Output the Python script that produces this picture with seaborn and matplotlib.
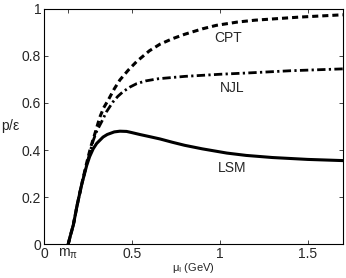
import numpy as np
import pandas as pd
import matplotlib
matplotlib.use("Agg")
import matplotlib.pyplot as plt
import seaborn as sns

# curves: mu_I (GeV) vs p/epsilon
cpt_x = [0.138, 0.15, 0.167, 0.189, 0.214, 0.243, 0.265, 0.29, 0.318, 0.34, 0.366, 0.40, 0.432, 0.48,
         0.527, 0.60, 0.66, 0.73, 0.80, 0.90, 0.98, 1.1, 1.2, 1.45, 1.7]
cpt_y = [0.0, 0.035, 0.081, 0.166, 0.252, 0.345, 0.41, 0.47, 0.54, 0.58, 0.613, 0.66, 0.698, 0.74,
         0.776, 0.822, 0.85, 0.873, 0.892, 0.915, 0.93, 0.944, 0.952, 0.965, 0.975]

njl_x = [0.138, 0.15, 0.167, 0.189, 0.214, 0.245, 0.28, 0.30, 0.328, 0.356, 0.393, 0.42, 0.45, 0.49,
         0.527, 0.58, 0.65, 0.80, 1.0, 1.17, 1.4, 1.7]
njl_y = [0.0, 0.035, 0.081, 0.166, 0.252, 0.345, 0.44, 0.48, 0.52, 0.563, 0.605, 0.628, 0.648, 0.668,
         0.682, 0.694, 0.703, 0.713, 0.722, 0.728, 0.737, 0.745]

lsm_x = [0.138, 0.15, 0.167, 0.189, 0.214, 0.243, 0.26, 0.28, 0.30, 0.336, 0.36, 0.40, 0.432, 0.47,
         0.50, 0.545, 0.60, 0.66, 0.73, 0.80, 0.90, 1.04, 1.15, 1.3, 1.5, 1.7]
lsm_y = [0.0, 0.035, 0.081, 0.166, 0.251, 0.334, 0.372, 0.405, 0.428, 0.455, 0.466, 0.477, 0.48, 0.479,
         0.474, 0.466, 0.457, 0.447, 0.433, 0.42, 0.405, 0.387, 0.377, 0.368, 0.36, 0.355]

x_ticks = [0, 0.138, 0.5, 1, 1.5]
x_tick_labels = ["0", r"m$_{\pi}$", "0.5", "1", "1.5"]
y_ticks = [0, 0.2, 0.4, 0.6, 0.8, 1]
y_tick_labels = ["0", "0.2", "0.4", "0.6", "0.8", "1"]

sns.set_style("ticks")
plt.rcParams["font.family"] = ["Liberation Sans", "DejaVu Sans"]
plt.rcParams["mathtext.fontset"] = "custom"
plt.rcParams["mathtext.rm"] = "Liberation Sans"
plt.rcParams["mathtext.it"] = "Liberation Sans"

fig = plt.figure(figsize=(3.46, 2.78), dpi=100)
ax = fig.add_axes([0.127, 0.122, 0.864, 0.846])

cpt = pd.DataFrame({"x": cpt_x, "y": cpt_y})
njl = pd.DataFrame({"x": njl_x, "y": njl_y})
lsm = pd.DataFrame({"x": lsm_x, "y": lsm_y})

sns.lineplot(data=cpt, x="x", y="y", ax=ax, color="black", lw=2.2, sort=False,
             linestyle=(0, (2.0, 1.3)))
sns.lineplot(data=njl, x="x", y="y", ax=ax, color="black", lw=2.0, sort=False,
             linestyle=(0, (3.0, 1.2, 0.8, 1.2)))
sns.lineplot(data=lsm, x="x", y="y", ax=ax, color="black", lw=2.2, sort=False)

ax.text(1.05, 0.877, "CPT", fontsize=10, ha="center", va="center")
ax.text(1.07, 0.664, "NJL", fontsize=10, ha="center", va="center")
ax.text(1.07, 0.323, "LSM", fontsize=10, ha="center", va="center")

ax.set_xlim(0, 1.7)
ax.set_ylim(0, 1)
ax.set_xticks(x_ticks)
ax.set_xticklabels(x_tick_labels, fontsize=10)
ax.set_yticks(y_ticks)
ax.set_yticklabels(y_tick_labels, fontsize=10)
ax.tick_params(direction="in", length=3, width=0.6, top=True, right=True, pad=2)
for s in ax.spines.values():
    s.set_linewidth(0.8)
    s.set_color("black")

ax.set_xlabel(r"$\mu_{\rm I}$ (GeV)", fontsize=8, labelpad=0)
ax.set_ylabel(r"p/$\epsilon$", fontsize=10, rotation=0, labelpad=8, va="center")

plt.savefig("out.png", dpi=100)
